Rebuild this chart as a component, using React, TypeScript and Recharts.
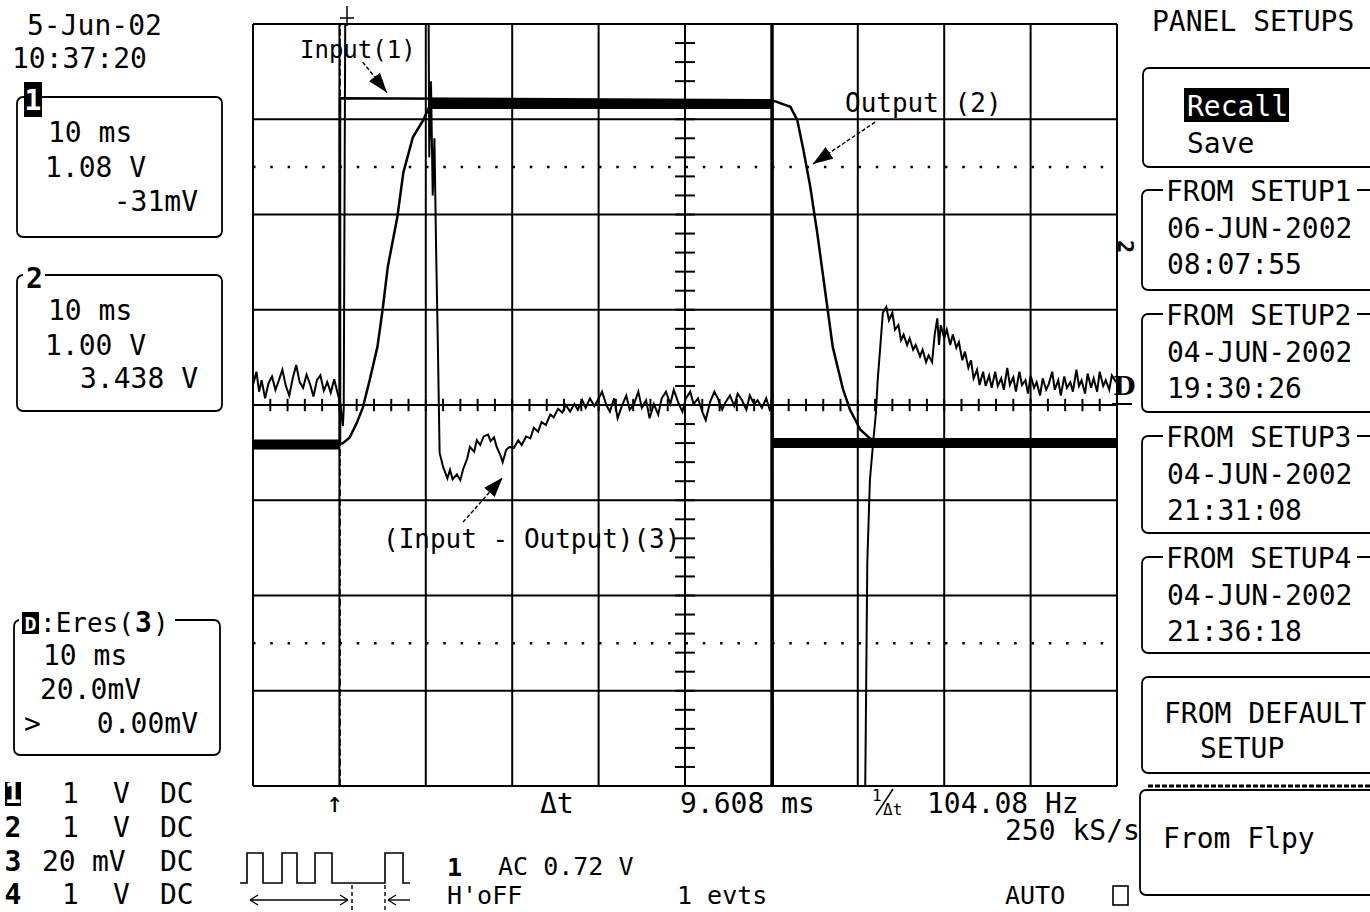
import { LineChart, Line, XAxis, YAxis, ReferenceLine } from 'recharts'

const W = 1370
const H = 912
const MONO = '"DejaVu Sans Mono", monospace'

// screen graticule: 10 ms per division, 8 vertical divisions
const timeTicks = [0, 10, 20, 30, 40, 50, 60, 70, 80, 90, 100]
const divTicks = [-4, -3, -2, -1, 0, 1, 2, 3, 4]
const minorTime = Array.from({ length: 51 }, (_, i) => i * 2)
const minorDiv = Array.from({ length: 41 }, (_, i) => -4 + i * 0.2)

// channel 1 (input), [ms, div]
const inputTrace: [number, number][] = [
  [0, -0.41], [10.07, -0.41], [10.07, 3.22], [60.1, 3.2], [60.1, -0.38], [100, -0.38],
]
// noise envelope of the input on its flat parts
const inputNoise: [number, number | null][] = [
  [0, -0.415], [10.0, -0.415], [10.05, null],
  [20.6, 3.16], [60.0, 3.16], [60.05, null],
  [60.2, -0.4], [100, -0.4],
]

// channel 2 (output)
const outputTrace: [number, number][] = [
  [0, -0.41], [10.07, -0.41], [10.4, -0.4], [11.2, -0.34], [12.0, -0.19], [12.7, -0.03],
  [13.5, 0.26], [14.4, 0.61], [15.0, 1.0], [15.6, 1.45], [16.7, 1.97], [17.4, 2.44],
  [18.5, 2.81], [19.7, 2.99], [20.5, 3.15], [21.2, 3.19], [60.4, 3.19], [61.0, 3.17],
  [62.2, 3.13], [63.0, 2.99], [63.7, 2.68], [64.5, 2.29], [65.3, 1.81], [66.2, 1.21],
  [67.1, 0.61], [68.3, 0.16], [69.1, -0.05], [70.3, -0.26], [71.4, -0.35], [72.6, -0.38],
  [100, -0.38],
]

// channel D: Eres(3), input - output at 20 mV/div
const diffBefore: [number, number][] = [
  [0, 0.21], [0.4, 0.35], [0.7, 0.14], [1.0, 0.26], [1.4, 0.07], [1.8, 0.23], [2.2, 0.3],
  [2.6, 0.16], [3.0, 0.26], [3.4, 0.37], [3.8, 0.2], [4.2, 0.1], [4.6, 0.28], [5.0, 0.42],
  [5.4, 0.24], [5.8, 0.18], [6.2, 0.32], [6.6, 0.22], [7.0, 0.09], [7.4, 0.26], [7.8, 0.31],
  [8.2, 0.15], [8.6, 0.24], [9.0, 0.13], [9.4, 0.27], [9.8, 0.12], [10.1, 0.02], [10.4, -0.22],
  [10.5, -0.05], [10.7, 4.6],
]
const diffMiddle: [number, number][] = [
  [20.3, 4.6], [20.4, 2.6], [20.6, 3.4], [20.8, 2.2], [21.0, 2.8], [21.2, 1.6], [21.4, 0.6],
  [21.6, -0.5], [22.0, -0.65], [22.5, -0.77], [22.8, -0.68], [23.1, -0.78], [23.6, -0.73],
  [24.0, -0.79], [24.3, -0.68], [24.8, -0.56], [25.1, -0.44], [25.6, -0.49], [25.9, -0.37],
  [26.3, -0.42], [26.7, -0.33], [27.2, -0.31], [27.5, -0.38], [27.9, -0.34], [28.2, -0.44],
  [28.6, -0.52], [28.9, -0.6], [29.3, -0.47], [29.7, -0.44], [30.2, -0.45], [30.7, -0.37],
  [31.1, -0.42], [31.6, -0.33], [32.1, -0.35], [32.5, -0.24], [33.0, -0.28], [33.4, -0.18],
  [33.9, -0.21], [34.4, -0.1], [34.8, -0.13], [35.3, -0.04], [35.8, -0.08], [36.2, 0.0],
  [36.7, -0.07], [37.2, 0.01], [37.6, -0.05], [38.1, 0.05], [38.5, -0.03], [39.0, 0.07],
  [39.5, -0.01], [39.9, 0.05], [40.4, 0.14], [40.9, 0.0], [41.3, -0.07], [41.8, 0.07],
  [42.2, -0.14], [42.7, -0.01], [43.2, 0.1], [43.6, -0.05], [44.1, 0.01], [44.6, 0.14],
  [45.0, -0.03], [45.5, 0.05], [45.9, -0.14], [46.4, 0.01], [46.9, -0.1], [47.3, 0.07],
  [47.8, 0.14], [48.3, 0.01], [48.7, 0.16], [49.2, 0.03], [49.7, -0.07], [50.1, 0.07],
  [50.6, 0.14], [51.0, 0.01], [51.5, 0.07], [52.0, -0.07], [52.4, -0.16], [52.9, 0.03],
  [53.4, 0.14], [53.8, 0.07], [54.3, -0.05], [54.7, 0.03], [55.2, 0.1], [55.7, -0.01],
  [56.1, 0.12], [56.6, 0.05], [57.1, -0.05], [57.5, 0.1], [58.0, 0.01], [58.4, 0.05],
  [58.9, -0.03], [59.4, 0.07], [59.8, -0.05], [60.1, 0.0], [60.2, -4.6],
]
const diffAfter: [number, number][] = [
  [70.8, -4.6], [71.1, -1.65], [71.4, -0.79], [71.8, -0.37], [72.1, -0.08], [72.3, 0.26],
  [72.6, 0.61], [72.9, 0.97], [73.3, 1.03], [73.6, 0.89], [74.0, 0.97], [74.3, 0.79],
  [74.7, 0.84], [75.0, 0.68], [75.3, 0.74], [75.7, 0.63], [76.0, 0.7], [76.4, 0.58],
  [76.7, 0.63], [77.2, 0.51], [77.5, 0.58], [77.9, 0.45], [78.2, 0.52], [78.6, 0.45],
  [78.9, 0.74], [79.2, 0.91], [79.4, 0.63], [79.6, 0.84], [80.0, 0.7], [80.3, 0.79],
  [80.7, 0.63], [81.0, 0.74], [81.4, 0.6], [81.7, 0.66], [82.1, 0.47], [82.4, 0.56],
  [82.8, 0.39], [83.1, 0.47], [83.4, 0.28], [83.8, 0.37], [84.1, 0.21], [84.5, 0.35],
  [84.8, 0.2], [85.2, 0.31], [85.5, 0.18], [85.9, 0.35], [86.2, 0.2], [86.6, 0.28],
  [86.9, 0.16], [87.3, 0.39], [87.6, 0.21], [88.0, 0.29], [88.3, 0.14], [88.7, 0.35],
  [89.0, 0.21], [89.4, 0.26], [89.7, 0.12], [90.0, 0.31], [90.4, 0.18], [90.7, 0.24],
  [91.1, 0.1], [91.4, 0.28], [91.8, 0.16], [92.1, 0.22], [92.5, 0.35], [92.8, 0.16],
  [93.2, 0.26], [93.5, 0.1], [93.9, 0.3], [94.2, 0.18], [94.6, 0.24], [94.9, 0.14],
  [95.3, 0.37], [95.6, 0.2], [95.9, 0.26], [96.3, 0.12], [96.6, 0.33], [97.0, 0.18],
  [97.3, 0.28], [97.7, 0.14], [98.0, 0.35], [98.4, 0.2], [98.7, 0.26], [99.1, 0.16],
  [99.4, 0.31], [99.9, 0.24],
]

// cursors and annotation arrows, in ms / div
const cursorTimes = [10.07, 60.1]
const arrows = [
  { from: { x: 12.7, y: 3.6 }, to: { x: 15.5, y: 3.28 } },
  { from: { x: 72.0, y: 2.97 }, to: { x: 64.8, y: 2.53 } },
  { from: { x: 24.3, y: -1.23 }, to: { x: 28.9, y: -0.76 } },
]

const rows = (pts: [number, number | null][]) => pts.map(([t, v]) => ({ t, v }))

function Txt({ x, y, children, size = 28, anchor = 'start', weight = 'normal', fill = '#000', family = MONO }: any) {
  return (
    <text x={x} y={y} fontSize={size} textAnchor={anchor} fontWeight={weight} fill={fill}
      fontFamily={family} style={{ whiteSpace: 'pre' }}>
      {children}
    </text>
  )
}

function SetupBox({ top, bottom, title, l1, l2 }: any) {
  return (
    <g>
      <rect x={1142} y={top} width={260} height={bottom - top} rx={6} fill="none" stroke="#000" strokeWidth={1.8} />
      <rect x={1163} y={top - 14} width={194} height={26} fill="#fff" />
      <Txt x={1166} y={top + 11}>{title}</Txt>
      <Txt x={1167} y={top + 48}>{l1}</Txt>
      <Txt x={1167} y={top + 84}>{l2}</Txt>
    </g>
  )
}

function Overlay() {
  const chRows = [
    { ch: '1', val: '1', unit: 'V', vx: 62, ux: 113, y: 803, inv: true },
    { ch: '2', val: '1', unit: 'V', vx: 62, ux: 113, y: 837 },
    { ch: '3', val: '20', unit: 'mV', vx: 42, ux: 92, y: 871 },
    { ch: '4', val: '1', unit: 'V', vx: 62, ux: 113, y: 904 },
  ]
  return (
    <svg width={W} height={H} style={{ position: 'absolute', left: 0, top: 0, pointerEvents: 'none' }}>
      <defs>
        <marker id="ah" viewBox="0 0 20 14" refX="20" refY="7" markerWidth="20" markerHeight="14"
          markerUnits="userSpaceOnUse" orient="auto">
          <path d="M0,0 L20,7 L0,14 z" fill="#000" />
        </marker>
      </defs>

      {/* annotations */}
      <Txt x={300} y={58} size={24}>Input(1)</Txt>
      <Txt x={845} y={112} size={26}>Output (2)</Txt>
      <Txt x={383} y={548} size={26}>(Input - Output)(3)</Txt>

      {/* date / time */}
      <Txt x={27} y={35}>5-Jun-02</Txt>
      <Txt x={12} y={68}>10:37:20</Txt>

      {/* channel 1 box */}
      <rect x={17} y={97} width={205} height={140} rx={6} fill="none" stroke="#000" strokeWidth={1.8} />
      <rect x={24} y={82} width={18} height={35} fill="#000" />
      <Txt x={33} y={110} anchor="middle" fill="#fff" weight="bold">1</Txt>
      <Txt x={48} y={142}>10 ms</Txt>
      <Txt x={45} y={177}>1.08 V</Txt>
      <Txt x={198} y={211} anchor="end">-31mV</Txt>

      {/* channel 2 box */}
      <rect x={17} y={275} width={205} height={136} rx={6} fill="none" stroke="#000" strokeWidth={1.8} />
      <rect x={23} y={262} width={22} height={28} fill="#fff" />
      <Txt x={26} y={288} weight="bold">2</Txt>
      <Txt x={48} y={320}>10 ms</Txt>
      <Txt x={45} y={355}>1.00 V</Txt>
      <Txt x={198} y={388} anchor="end">3.438 V</Txt>

      {/* channel D box */}
      <rect x={14} y={620} width={206} height={135} rx={6} fill="none" stroke="#000" strokeWidth={1.8} />
      <rect x={19} y={606} width={156} height={30} fill="#fff" />
      <rect x={22} y={612} width={17} height={22} fill="#000" />
      <Txt x={30.5} y={631} size={20} anchor="middle" fill="#fff" weight="bold">D</Txt>
      <Txt x={40} y={632} size={26}>:Eres(</Txt>
      <Txt x={135} y={632} size={28} weight="bold">3</Txt>
      <Txt x={153} y={632} size={26}>)</Txt>
      <Txt x={43} y={665}>10 ms</Txt>
      <Txt x={40} y={699}>20.0mV</Txt>
      <Txt x={24} y={733}>{'>'}</Txt>
      <Txt x={198} y={733} anchor="end">0.00mV</Txt>

      {/* channel summary */}
      {chRows.map((r) => (
        <g key={r.ch}>
          {r.inv && <rect x={5} y={r.y - 21} width={16} height={24} fill="#000" />}
          <Txt x={13} y={r.y} anchor="middle" weight="bold" fill={r.inv ? '#fff' : '#000'}>{r.ch}</Txt>
          <Txt x={r.vx} y={r.y}>{r.val}</Txt>
          <Txt x={r.ux} y={r.y}>{r.unit}</Txt>
          <Txt x={160} y={r.y}>DC</Txt>
        </g>
      ))}

      {/* trigger markers */}
      <line x1={347} y1={6} x2={347} y2={26} stroke="#000" strokeWidth={1.5} />
      <line x1={340} y1={18} x2={354} y2={18} stroke="#000" strokeWidth={1.5} />
      <Txt x={335} y={812} anchor="middle">↑</Txt>

      {/* cursor readouts */}
      <Txt x={540} y={813}>Δt</Txt>
      <Txt x={680} y={813}>9.608 ms</Txt>
      <Txt x={872} y={801} size={16}>1</Txt>
      <line x1={876} y1={815} x2={893} y2={789} stroke="#000" strokeWidth={1.5} />
      <Txt x={883} y={815} size={16}>Δt</Txt>
      <Txt x={927} y={813}>104.08 Hz</Txt>
      <Txt x={1005} y={840}>250 kS/s</Txt>

      {/* acquisition info */}
      <path d="M240,883 L247,883 L247,853 L263,853 L263,883 L282,883 L282,853 L297,853 L297,883 L315,883 L315,853 L332,853 L332,883 L385,883 L385,853 L403,853 L403,883 L410,883"
        fill="none" stroke="#000" strokeWidth={1.6} />
      <line x1={250} y1={900} x2={348} y2={900} stroke="#000" strokeWidth={1.4} />
      <path d="M250,900 L258,895 M250,900 L258,905 M348,900 L340,895 M348,900 L340,905" stroke="#000" strokeWidth={1.4} />
      <line x1={352} y1={885} x2={352} y2={912} stroke="#000" strokeWidth={1.4} strokeDasharray="4 3" />
      <line x1={385} y1={885} x2={385} y2={912} stroke="#000" strokeWidth={1.4} strokeDasharray="4 3" />
      <line x1={388} y1={900} x2={410} y2={900} stroke="#000" strokeWidth={1.4} />
      <path d="M388,900 L396,895 M388,900 L396,905" stroke="#000" strokeWidth={1.4} />
      <Txt x={447} y={876} size={25} weight="bold">1</Txt>
      <Txt x={498} y={875} size={25}>AC 0.72 V</Txt>
      <Txt x={447} y={904} size={25}>H'oFF</Txt>
      <Txt x={677} y={904} size={25}>1 evts</Txt>
      <Txt x={1005} y={904} size={25}>AUTO</Txt>
      <rect x={1113} y={886} width={15} height={19} fill="none" stroke="#000" strokeWidth={1.6} />

      {/* ground markers on the right edge */}
      <Txt x={1113} y={395} size={26} weight="bold" family='"DejaVu Serif", serif'>D</Txt>
      <line x1={1112} y1={404} x2={1132} y2={404} stroke="#000" strokeWidth={2} />
      <g transform="translate(1118,240) rotate(90)">
        <Txt x={0} y={0} size={22} weight="bold">2</Txt>
      </g>

      {/* panel setups menu */}
      <Txt x={1152} y={31}>PANEL SETUPS</Txt>
      <rect x={1143} y={68} width={260} height={99} rx={6} fill="none" stroke="#000" strokeWidth={1.8} />
      <rect x={1184} y={88} width={105} height={34} fill="#000" />
      <Txt x={1187} y={116} fill="#fff">Recall</Txt>
      <Txt x={1187} y={153}>Save</Txt>
      <SetupBox top={190} bottom={290} title="FROM SETUP1" l1="06-JUN-2002" l2="08:07:55" />
      <SetupBox top={314} bottom={412} title="FROM SETUP2" l1="04-JUN-2002" l2="19:30:26" />
      <SetupBox top={436} bottom={533} title="FROM SETUP3" l1="04-JUN-2002" l2="21:31:08" />
      <SetupBox top={557} bottom={653} title="FROM SETUP4" l1="04-JUN-2002" l2="21:36:18" />
      <rect x={1142} y={677} width={260} height={96} rx={6} fill="none" stroke="#000" strokeWidth={1.8} />
      <Txt x={1164} y={723}>FROM DEFAULT</Txt>
      <Txt x={1200} y={758}>SETUP</Txt>
      <line x1={1148} y1={786} x2={1370} y2={786} stroke="#000" strokeWidth={3} strokeDasharray="5 2" />
      <rect x={1140} y={790} width={262} height={105} rx={6} fill="none" stroke="#000" strokeWidth={1.8} />
      <Txt x={1163} y={848}>From Flpy</Txt>
    </svg>
  )
}

export default function App() {
  const diffRows = rows([...diffBefore, ...diffMiddle, ...diffAfter])
  return (
    <div style={{ position: 'absolute', left: 0, top: 0, width: W, height: H, background: '#fff', overflow: 'hidden', fontFamily: MONO }}>
      <div style={{ position: 'absolute', left: 0, top: 0 }}>
        <LineChart width={W} height={H} margin={{ top: 24, right: 253, bottom: 126, left: 253 }}>
          <XAxis type="number" dataKey="t" domain={[0, 100]} ticks={timeTicks} interval={0}
            tick={false} tickLine={false} axisLine={false} height={0} allowDataOverflow />
          <YAxis type="number" domain={[-4, 4]} ticks={divTicks} interval={0}
            tick={false} tickLine={false} axisLine={false} width={0} allowDataOverflow />

          {/* major graticule */}
          {timeTicks.map((t) => (
            <ReferenceLine key={'gx' + t} x={t} stroke="#000" strokeWidth={2} />
          ))}
          {divTicks.map((d) => (
            <ReferenceLine key={'gy' + d} y={d} stroke="#000" strokeWidth={2} />
          ))}

          {/* dotted level cursors */}
          <ReferenceLine y={2.5} stroke="#000" strokeWidth={2.5} strokeDasharray="2.5 14.8" />
          <ReferenceLine y={-2.5} stroke="#000" strokeWidth={2.5} strokeDasharray="2.5 14.8" />

          {/* centre graticule ticks */}
          {minorTime.map((t) => (
            <ReferenceLine key={'mt' + t} segment={[{ x: t, y: -0.065 }, { x: t, y: 0.065 }]} stroke="#000" strokeWidth={2} />
          ))}
          {minorDiv.map((d) => (
            <ReferenceLine key={'md' + d.toFixed(1)} segment={[{ x: 48.85, y: d }, { x: 51.15, y: d }]} stroke="#000" strokeWidth={2} />
          ))}

          {/* time cursors */}
          <ReferenceLine x={cursorTimes[0]} stroke="#000" strokeWidth={1.6} strokeDasharray="7 3" />
          <ReferenceLine x={cursorTimes[1]} stroke="#000" strokeWidth={3} />

          <Line data={rows(inputNoise)} dataKey="v" type="linear" stroke="#000" strokeWidth={10}
            dot={false} activeDot={false} connectNulls={false} isAnimationActive={false} />
          <Line data={rows(inputTrace)} dataKey="v" type="linear" stroke="#000" strokeWidth={2.5}
            dot={false} activeDot={false} isAnimationActive={false} />
          <Line data={rows(outputTrace)} dataKey="v" type="linear" stroke="#000" strokeWidth={2.5}
            dot={false} activeDot={false} isAnimationActive={false} />
          <Line data={diffRows} dataKey="v" type="linear" stroke="#000" strokeWidth={2}
            dot={false} activeDot={false} isAnimationActive={false} />

          {arrows.map((a, i) => (
            <ReferenceLine key={'ar' + i} segment={[a.from, a.to]} stroke="#000" strokeWidth={1.4}
              strokeDasharray="4 2" markerEnd="url(#ah)" />
          ))}
        </LineChart>
      </div>
      <Overlay />
    </div>
  )
}
